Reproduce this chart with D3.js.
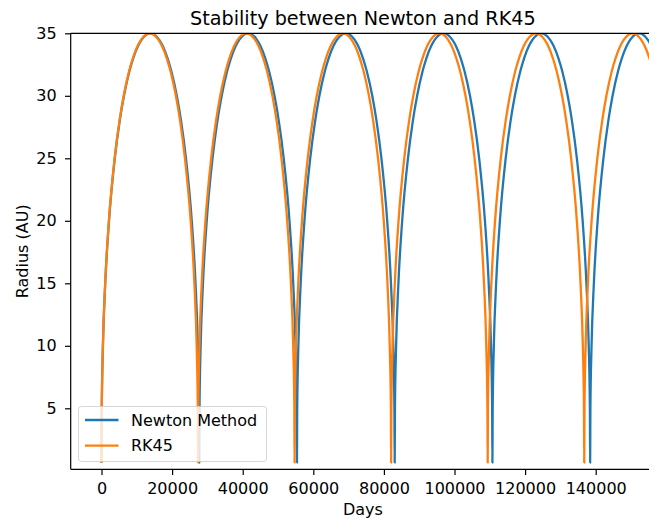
<!DOCTYPE html>
<html>
<head>
<meta charset="utf-8">
<script src="https://cdn.jsdelivr.net/npm/d3@7"></script>
<style>
  html, body { margin: 0; padding: 0; background: #fff; }
  svg { display: block; font-family: "DejaVu Sans", sans-serif; }
</style>
</head>
<body>
<svg id="chart" width="649" height="523"></svg>
<script>
// ---------------- data ----------------
const chartTitle = "Stability between Newton and RK45";
const xLabel = "Days";
const yLabel = "Radius (AU)";
const seriesNames = ["Newton Method", "RK45"];

const xTicks = [0, 20000, 40000, 60000, 80000, 100000, 120000, 140000];
const yTicks = [5, 10, 15, 20, 25, 30, 35];

const newtonDays = [
  0, 75, 401, 1055, 2119, 3758, 5150, 6357, 7933, 8973, 10368, 11375, 13842, 16310, 17317, 18712, 19752, 21328, 22535, 23927, 25566, 26630, 27284, 27610,
  27685, 27760, 28086, 28740, 29804, 31443, 32835, 34042, 35618, 36658, 38053, 39060, 41527, 43995, 45002, 46397, 47437, 49013, 50220, 51612, 53251, 54315, 54969, 55295,
  55370, 55445, 55771, 56425, 57489, 59128, 60520, 61727, 63303, 64343, 65738, 66745, 69212, 71680, 72687, 74082, 75122, 76698, 77905, 79297, 80936, 82000, 82654, 82980,
  83055, 83130, 83456, 84110, 85174, 86813, 88205, 89412, 90988, 92028, 93423, 94430, 96897, 99365, 100372, 101767, 102807, 104383, 105590, 106982, 108621, 109685, 110339, 110665,
  110740, 110815, 111141, 111795, 112859, 114498, 115890, 117097, 118673, 119713, 121108, 122115, 124582, 127050, 128057, 129452, 130492, 132068, 133275, 134667, 136306, 137370, 138024, 138350,
  138425, 138500, 138826, 139480, 140544, 142183, 143575, 144782, 146358, 147398, 148793, 149800, 152267, 154735, 155742, 157137, 158177
];
const newtonRadius = [
  0.65, 5, 10, 15, 20, 25, 28, 30, 32, 33, 34, 34.5, 35, 34.5, 34, 33, 32, 30, 28, 25, 20, 15, 10, 5,
  0.65, 5, 10, 15, 20, 25, 28, 30, 32, 33, 34, 34.5, 35, 34.5, 34, 33, 32, 30, 28, 25, 20, 15, 10, 5,
  0.65, 5, 10, 15, 20, 25, 28, 30, 32, 33, 34, 34.5, 35, 34.5, 34, 33, 32, 30, 28, 25, 20, 15, 10, 5,
  0.65, 5, 10, 15, 20, 25, 28, 30, 32, 33, 34, 34.5, 35, 34.5, 34, 33, 32, 30, 28, 25, 20, 15, 10, 5,
  0.65, 5, 10, 15, 20, 25, 28, 30, 32, 33, 34, 34.5, 35, 34.5, 34, 33, 32, 30, 28, 25, 20, 15, 10, 5,
  0.65, 5, 10, 15, 20, 25, 28, 30, 32, 33, 34, 34.5, 35, 34.5, 34, 33, 32
];

const rk45Days = [
  0, 74, 396, 1043, 2094, 3713, 5089, 6281, 7838, 8866, 10245, 11240, 13675, 16110, 17105, 18484, 19512, 21069, 22261, 23637, 25256, 26307, 26954, 27276,
  27350, 27424, 27746, 28393, 29444, 31063, 32439, 33631, 35188, 36216, 37595, 38590, 41025, 43460, 44455, 45834, 46862, 48419, 49611, 50987, 52606, 53657, 54304, 54626,
  54700, 54774, 55096, 55743, 56794, 58413, 59789, 60981, 62538, 63566, 64945, 65940, 68375, 70810, 71805, 73184, 74212, 75769, 76961, 78337, 79956, 81007, 81654, 81976,
  82050, 82124, 82446, 83093, 84144, 85763, 87139, 88331, 89888, 90916, 92295, 93290, 95725, 98160, 99155, 100534, 101562, 103119, 104311, 105687, 107306, 108357, 109004, 109326,
  109400, 109474, 109796, 110443, 111494, 113113, 114489, 115681, 117238, 118266, 119645, 120640, 123075, 125510, 126505, 127884, 128912, 130469, 131661, 133037, 134656, 135707, 136354, 136676,
  136750, 136824, 137146, 137793, 138844, 140463, 141839, 143031, 144588, 145616, 146995, 147990, 150425, 152860, 153855, 155234, 156262, 157819
];
const rk45Radius = [
  0.65, 5, 10, 15, 20, 25, 28, 30, 32, 33, 34, 34.5, 35, 34.5, 34, 33, 32, 30, 28, 25, 20, 15, 10, 5,
  0.65, 5, 10, 15, 20, 25, 28, 30, 32, 33, 34, 34.5, 35, 34.5, 34, 33, 32, 30, 28, 25, 20, 15, 10, 5,
  0.65, 5, 10, 15, 20, 25, 28, 30, 32, 33, 34, 34.5, 35, 34.5, 34, 33, 32, 30, 28, 25, 20, 15, 10, 5,
  0.65, 5, 10, 15, 20, 25, 28, 30, 32, 33, 34, 34.5, 35, 34.5, 34, 33, 32, 30, 28, 25, 20, 15, 10, 5,
  0.65, 5, 10, 15, 20, 25, 28, 30, 32, 33, 34, 34.5, 35, 34.5, 34, 33, 32, 30, 28, 25, 20, 15, 10, 5,
  0.65, 5, 10, 15, 20, 25, 28, 30, 32, 33, 34, 34.5, 35, 34.5, 34, 33, 32, 30
];

const xDomain = [-8730, 156800];
const yDomain = [0.12, 35];
const colors = ["#1f77b4", "#ff7f0e"];

// ---------------- layout ----------------
const plot = { left: 70.7, top: 33.3, right: 655, bottom: 469.3 };
const fontSize = 16;
const tickLen = 5.7;

const svg = d3.select("#chart");
const x = d3.scaleLinear().domain(xDomain).range([plot.left, plot.right]);
const y = d3.scaleLinear().domain(yDomain).range([plot.bottom, plot.top]);

svg.append("defs").append("clipPath").attr("id", "plotClip")
  .append("rect")
  .attr("x", plot.left).attr("y", plot.top)
  .attr("width", plot.right - plot.left).attr("height", plot.bottom - plot.top);

// lines
const series = [
  d3.zip(newtonDays, newtonRadius),
  d3.zip(rk45Days, rk45Radius)
];
const line = d3.line()
  .x(d => x(d[0]))
  .y(d => y(d[1]))
  .curve(d3.curveMonotoneX);

const g = svg.append("g").attr("clip-path", "url(#plotClip)");
series.forEach((s, i) => {
  g.append("path")
    .datum(s)
    .attr("fill", "none")
    .attr("stroke", colors[i])
    .attr("stroke-width", 2.3)
    .attr("stroke-linejoin", "round")
    .attr("d", line);
});

// axes
const xAxis = d3.axisBottom(x).tickValues(xTicks).tickFormat(d3.format("d"))
  .tickSizeInner(tickLen).tickSizeOuter(0).tickPadding(5.7);
const yAxis = d3.axisLeft(y).tickValues(yTicks).tickFormat(d3.format("d"))
  .tickSizeInner(tickLen).tickSizeOuter(0).tickPadding(8.3);

const gx = svg.append("g").attr("transform", `translate(0,${plot.bottom})`).call(xAxis);
const gy = svg.append("g").attr("transform", `translate(${plot.left},0)`).call(yAxis);
[gx, gy].forEach(a => {
  a.select(".domain").remove();
  a.selectAll(".tick line").attr("stroke", "#000").attr("stroke-width", 1.2);
  a.selectAll(".tick text").attr("fill", "#000")
    .style("font-size", fontSize + "px")
    .style("font-family", "DejaVu Sans");
});
gx.selectAll(".tick text").attr("y", 24.7).attr("dy", 0);

// spines
const spine = svg.append("g").attr("stroke", "#000").attr("stroke-width", 1.2).attr("fill", "none");
spine.append("line").attr("x1", plot.left).attr("x2", plot.right).attr("y1", plot.top).attr("y2", plot.top);
spine.append("line").attr("x1", plot.left).attr("x2", plot.right).attr("y1", plot.bottom).attr("y2", plot.bottom);
spine.append("line").attr("x1", plot.left).attr("x2", plot.left).attr("y1", plot.top).attr("y2", plot.bottom);
spine.append("line").attr("x1", plot.right).attr("x2", plot.right).attr("y1", plot.top).attr("y2", plot.bottom);

// title & labels
svg.append("text")
  .attr("x", (plot.left + plot.right) / 2).attr("y", 25)
  .attr("text-anchor", "middle")
  .style("font-size", "19.2px").attr("fill", "#000")
  .text(chartTitle);

svg.append("text")
  .attr("x", (plot.left + plot.right) / 2).attr("y", 515)
  .attr("text-anchor", "middle")
  .style("font-size", fontSize + "px").attr("fill", "#000")
  .text(xLabel);

svg.append("text")
  .attr("transform", `translate(28,${(plot.top + plot.bottom) / 2}) rotate(-90)`)
  .attr("text-anchor", "middle")
  .style("font-size", fontSize + "px").attr("fill", "#000")
  .text(yLabel);

// legend
const leg = svg.append("g");
leg.append("rect")
  .attr("x", 78.5).attr("y", 406.5).attr("width", 188).attr("height", 55)
  .attr("rx", 3).attr("ry", 3)
  .attr("fill", "#fff").attr("fill-opacity", 0.8)
  .attr("stroke", "#cccccc").attr("stroke-opacity", 0.8).attr("stroke-width", 1);
seriesNames.forEach((name, i) => {
  const cy = 420 + i * 25.7;
  leg.append("line")
    .attr("x1", 85).attr("x2", 118.5).attr("y1", cy).attr("y2", cy)
    .attr("stroke", colors[i]).attr("stroke-width", 2.3);
  leg.append("text")
    .attr("x", 131).attr("y", cy).attr("dy", "0.36em")
    .style("font-size", fontSize + "px").attr("fill", "#000")
    .text(name);
});
</script>
</body>
</html>
